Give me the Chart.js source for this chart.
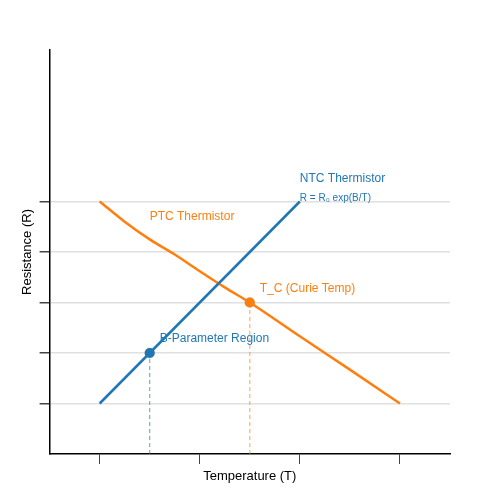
<!DOCTYPE html>
<html><head><script src="https://cdn.jsdelivr.net/npm/chart.js"></script>
<style>body{margin:0;background:#fff}#w{width:500px;height:500px}</style></head>
<body><div id="w"><canvas id="c"></canvas></div>
<script>
const ntcX=[1,5], ntcY=[1,5];
const ptcX=[1,1.5,2,2.5,3,3.5,4,5,6,7];
const ptcY=[5,4.6,4.25,3.95,3.62,3.3,3.0,2.33,1.67,1.0];
const bPoint=[2,2], curiePoint=[4,3];
const xTicks=[1,3,5,7], yTicks=[1,2,3,4,5];
const blue='#1f77b4', orange='#ff7f0e';
const labels=[
 {x:5,y:5.45,t:'NTC Thermistor',c:blue,s:12},
 {x:5,y:5.07,t:'R = R₀ exp(B/T)',c:blue,s:10},
 {x:2,y:4.7,t:'PTC Thermistor',c:orange,s:12},
 {x:4.2,y:3.28,t:'T_C (Curie Temp)',c:orange,s:12},
 {x:2.2,y:2.28,t:'B-Parameter Region',c:blue,s:12}
];
const textPlugin={id:'t',afterDatasetsDraw(ch){const {ctx,scales:{x,y}}=ch;ctx.save();ctx.textBaseline='middle';
 labels.forEach(l=>{ctx.fillStyle=l.c;ctx.font=l.s+'px "Liberation Sans", Arial';ctx.fillText(l.t,x.getPixelForValue(l.x),y.getPixelForValue(l.y));});ctx.restore();}};
new Chart(document.getElementById('c'),{type:'scatter',
data:{datasets:[
 {data:ntcX.map((v,i)=>({x:v,y:ntcY[i]})),showLine:true,borderColor:blue,borderWidth:2.5,pointRadius:0},
 {data:ptcX.map((v,i)=>({x:v,y:ptcY[i]})),showLine:true,borderColor:orange,borderWidth:2.5,pointRadius:0,tension:0.4,cubicInterpolationMode:'monotone'},
 {data:[{x:bPoint[0],y:0},{x:bPoint[0],y:bPoint[1]}],showLine:true,borderColor:'rgba(31,119,180,0.6)',borderWidth:1.2,borderDash:[4,3],pointRadius:0},
 {data:[{x:curiePoint[0],y:0},{x:curiePoint[0],y:curiePoint[1]}],showLine:true,borderColor:'rgba(255,127,14,0.6)',borderWidth:1.2,borderDash:[4,3],pointRadius:0},
 {data:[{x:bPoint[0],y:bPoint[1]}],backgroundColor:blue,pointRadius:5},
 {data:[{x:curiePoint[0],y:curiePoint[1]}],backgroundColor:orange,pointRadius:5}
]},
options:{responsive:true,maintainAspectRatio:false,animation:false,
 layout:{padding:{top:50,right:50,left:16,bottom:12}},
 plugins:{legend:{display:false},tooltip:{enabled:false}},
 scales:{
  x:{min:0,max:8,afterBuildTicks:a=>{a.ticks=xTicks.map(v=>({value:v}))},
   ticks:{display:true,callback:()=>'' ,padding:0},
   grid:{display:true,drawOnChartArea:false,tickLength:10,color:'#444',tickColor:'#444'},
   border:{color:'#000',width:1.5},
   title:{display:true,text:'Temperature (T)',color:'#000',padding:{top:-10,bottom:4},font:{size:13,family:'"Liberation Sans", Arial'}}},
  y:{min:0,max:8,afterBuildTicks:a=>{a.ticks=yTicks.map(v=>({value:v}))},
   ticks:{display:true,callback:()=>'',padding:0},
   grid:{color:'#e0e0e0',tickLength:10,tickColor:'#444',lineWidth:1.5},
   border:{color:'#000',width:1.5},
   title:{display:true,text:'Resistance (R)',color:'#000',font:{size:13,family:'"Liberation Sans", Arial'}}}
 }},
plugins:[textPlugin]});
</script></body></html>
